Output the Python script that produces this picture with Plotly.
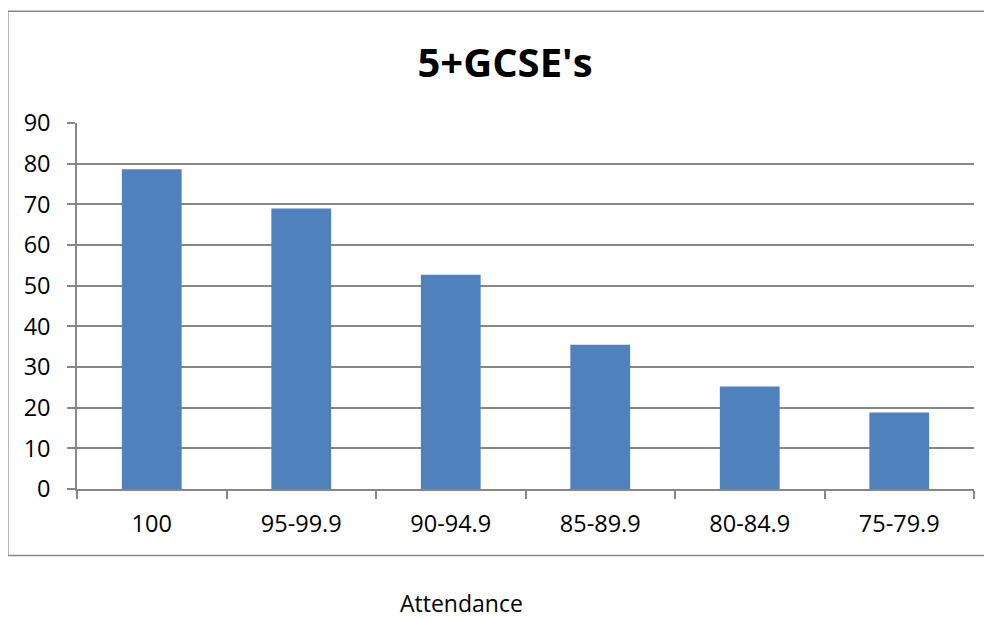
import plotly.graph_objects as go

categories = ["100", "95-99.9", "90-94.9", "85-89.9", "80-84.9", "75-79.9"]
values = [78.6, 69.0, 52.7, 35.5, 25.2, 18.8]
y_ticks = [0, 10, 20, 30, 40, 50, 60, 70, 80, 90]

GRAY = "#878787"
FONT = "Open Sans"

fig = go.Figure(
    go.Bar(
        x=categories,
        y=values,
        marker=dict(color="#4F81BD", line=dict(width=0)),
        width=0.4,
    )
)

OFF = 8  # page body margin
L, R, T, B = 76.7 - OFF, 974 - OFF, 123.3 - OFF, 489.3 - OFF
W, H = 992 - OFF, 619 - OFF
pw, ph = R - L, B - T

def px_x(v):
    return (v - OFF - L) / pw

def px_y(v):
    return (B - (v - OFF)) / ph

fig.update_layout(
    width=W,
    height=H,
    autosize=False,
    margin=dict(l=L, r=W - R, t=T, b=H - B, pad=0),
    paper_bgcolor="white",
    plot_bgcolor="white",
    showlegend=False,
    font=dict(family=FONT, color="black", size=23),
    title=dict(
        text="<b>5+GCSE's</b>",
        font=dict(family=FONT, size=40, color="black"),
        x=(505 - OFF) / W,
        xref="container",
        xanchor="center",
        y=1 - (63 - OFF) / H,
        yref="container",
        yanchor="middle",
    ),
    xaxis=dict(
        type="category",
        showline=True,
        linecolor=GRAY,
        linewidth=1.5,
        ticks="outside",
        tickson="boundaries",
        ticklen=8,
        tickwidth=1.5,
        tickcolor=GRAY,
        showgrid=False,
        tickfont=dict(family=FONT, size=23.5, color="black"),
        ticklabelstandoff=13,
    ),
    yaxis=dict(
        range=[0, 90],
        tickvals=y_ticks,
        showline=True,
        linecolor=GRAY,
        linewidth=1.5,
        ticks="outside",
        ticklen=8,
        tickwidth=1.5,
        tickcolor=GRAY,
        showgrid=True,
        gridcolor=GRAY,
        gridwidth=1.5,
        zeroline=False,
        tickfont=dict(family=FONT, size=23.5, color="black"),
        ticklabelstandoff=12,
    ),
    shapes=[
        dict(
            type="rect",
            xref="paper",
            yref="paper",
            x0=px_x(7.5),
            x1=px_x(1010),
            y0=px_y(555.7),
            y1=px_y(11.5),
            line=dict(color=GRAY, width=1.5),
            fillcolor="rgba(0,0,0,0)",
            layer="below",
        )
    ],
    annotations=[
        dict(
            text="Attendance",
            xref="paper",
            yref="paper",
            x=px_x(461),
            y=px_y(603),
            xanchor="center",
            yanchor="middle",
            showarrow=False,
            borderpad=0,
            font=dict(family=FONT, size=23, color="black"),
        )
    ],
)

fig.write_html("out.html")
